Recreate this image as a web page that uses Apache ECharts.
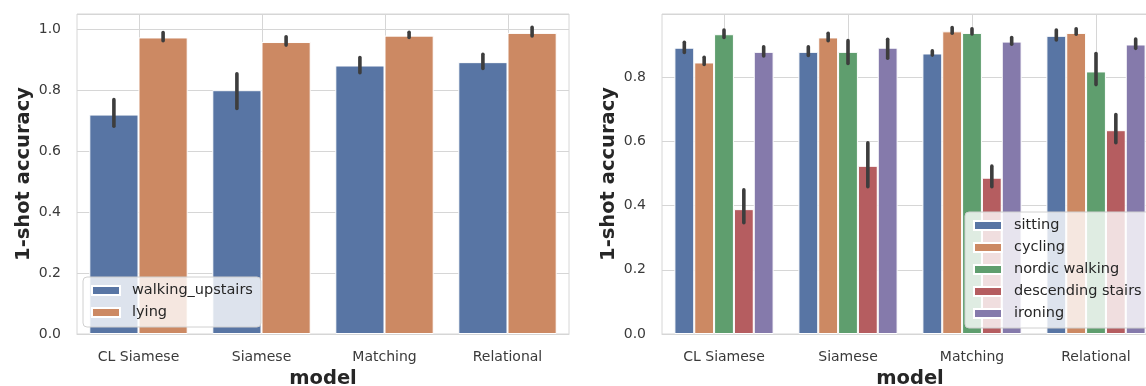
<!DOCTYPE html>
<html><head><meta charset="utf-8">
<script src="https://cdn.jsdelivr.net/npm/echarts@6/dist/echarts.min.js"></script>
<style>html,body{margin:0;padding:0;background:#fff}#c{width:1146px;height:386px}</style>
</head><body><div id="c"></div>
<script>
const models = ['CL Siamese', 'Siamese', 'Matching', 'Relational'];
const yTicks = [0, 0.2, 0.4, 0.6, 0.8, 1.0];

// left panel
const leftActivities = ['walking_upstairs', 'lying'];
const walkingUpstairsMean = [0.720, 0.800, 0.881, 0.892];
const walkingUpstairsCI = [[0.682, 0.769], [0.740, 0.854], [0.857, 0.907], [0.871, 0.918]];
const lyingMean = [0.973, 0.958, 0.979, 0.988];
const lyingCI = [[0.962, 0.989], [0.948, 0.975], [0.973, 0.990], [0.978, 1.006]];

// right panel
const rightActivities = ['sitting', 'cycling', 'nordic walking', 'descending stairs', 'ironing'];
const sittingMean = [0.892, 0.879, 0.874, 0.929];
const sittingCI = [[0.877, 0.909], [0.868, 0.895], [0.869, 0.882], [0.916, 0.947]];
const cyclingMean = [0.846, 0.924, 0.943, 0.938];
const cyclingCI = [[0.840, 0.862], [0.914, 0.937], [0.937, 0.955], [0.934, 0.951]];
const nordicMean = [0.934, 0.879, 0.938, 0.818];
const nordicCI = [[0.924, 0.947], [0.843, 0.914], [0.935, 0.951], [0.777, 0.874]];
const descendingMean = [0.389, 0.524, 0.487, 0.635];
const descendingCI = [[0.347, 0.449], [0.459, 0.596], [0.459, 0.523], [0.596, 0.684]];
const ironingMean = [0.879, 0.892, 0.911, 0.902];
const ironingCI = [[0.866, 0.895], [0.859, 0.918], [0.903, 0.924], [0.890, 0.919]];

const palette = ['#5875A4', '#CC8963', '#5F9E6E', '#B55D60', '#857AAB'];
const FONT = 'DejaVu Sans';
const GRIDC = '#d6d6d6';

function barSeries(name, data, color, gi) {
  return {
    type: 'bar', name: name, data: data, xAxisIndex: gi, yAxisIndex: gi,
    itemStyle: { color: color, borderColor: '#ffffff', borderWidth: 1 },
    barGap: '0%', barCategoryGap: '20%', z: 2, silent: true
  };
}
function errSeries(ci, sIdx, n, gi) {
  return {
    type: 'custom', xAxisIndex: gi, yAxisIndex: gi, z: 3, silent: true,
    data: ci.map((c, i) => [i, c[0], c[1]]),
    encode: { x: 0, y: [1, 2] },
    renderItem: function (params, api) {
      const band = api.size([1, 0])[0];
      const w = band * 0.8 / n;
      const x = api.coord([api.value(0), 0])[0] + (sIdx - (n - 1) / 2) * w;
      const p1 = api.coord([api.value(0), api.value(1)]);
      const p2 = api.coord([api.value(0), api.value(2)]);
      return { type: 'line', shape: { x1: x, y1: p1[1], x2: x, y2: p2[1] },
        style: { stroke: '#3d3d3d', lineWidth: 3.6, lineCap: 'round' } };
    }
  };
}
function vGridSeries(gi) {
  return {
    type: 'custom', xAxisIndex: gi, yAxisIndex: gi, z: 1, silent: true,
    data: models.map((m, i) => [i, 0]),
    encode: { x: 0, y: 1 },
    renderItem: function (params, api) {
      const x = Math.round(api.coord([api.value(0), 0])[0]) + 0.5;
      const cs = params.coordSys;
      return { type: 'line', shape: { x1: x, y1: cs.y, x2: x, y2: cs.y + cs.height },
        style: { stroke: GRIDC, lineWidth: 1 } };
    }
  };
}
function xAxis(gi) {
  return {
    type: 'category', gridIndex: gi, data: models,
    name: 'model', nameLocation: 'middle', nameGap: 34,
    nameTextStyle: { fontSize: 19.5, fontWeight: 'bold', color: '#262626', fontFamily: FONT },
    axisLabel: { fontSize: 14, color: '#3a3a3a', margin: 16, fontFamily: FONT },
    axisLine: { show: true, lineStyle: { color: GRIDC } },
    axisTick: { show: false }, splitLine: { show: false }
  };
}
function yAxis(gi, max) {
  return {
    type: 'value', gridIndex: gi, min: 0, max: max, interval: 0.2,
    name: '1-shot accuracy', nameLocation: 'middle', nameGap: 43,
    nameTextStyle: { fontSize: 19.5, fontWeight: 'bold', color: '#262626', fontFamily: FONT },
    axisLabel: { fontSize: 14, color: '#3a3a3a', margin: 16, fontFamily: FONT,
      formatter: v => yTicks.some(t => Math.abs(t - v) < 1e-6) ? v.toFixed(1) : '' },
    axisLine: { show: false }, axisTick: { show: false },
    splitLine: { show: true, lineStyle: { color: GRIDC, width: 1 } }
  };
}
function legend(names, left, top) {
  return {
    orient: 'vertical', left: left, top: top, data: names, icon: 'rect',
    itemWidth: 28, itemHeight: 9, itemGap: 7, padding: [6, 8, 7, 8],
    backgroundColor: 'rgba(255,255,255,0.8)', borderColor: '#d0d0d0', borderWidth: 1, borderRadius: 4,
    textStyle: { fontSize: 14.5, color: '#262626', fontFamily: FONT, padding: [0, 0, 0, 7] },
    selectedMode: false
  };
}

const chart = echarts.init(document.getElementById('c'), null, { renderer: 'canvas' });
chart.setOption({
  animation: false,
  textStyle: { fontFamily: FONT },
  grid: [
    { left: 77, top: 14, width: 492, height: 320, outerBoundsMode: 'none', containLabel: false, show: true, borderColor: GRIDC, borderWidth: 1, backgroundColor: 'transparent' },
    { left: 662, top: 14, width: 496, height: 320, outerBoundsMode: 'none', containLabel: false, show: true, borderColor: GRIDC, borderWidth: 1, backgroundColor: 'transparent' }
  ],
  xAxis: [xAxis(0), xAxis(1)],
  yAxis: [yAxis(0, 1.05), yAxis(1, 0.997)],
  legend: [legend(leftActivities, 83, 277), legend(rightActivities, 965, 212)],
  series: [
    vGridSeries(0), vGridSeries(1),
    barSeries(leftActivities[0], walkingUpstairsMean, palette[0], 0),
    barSeries(leftActivities[1], lyingMean, palette[1], 0),
    errSeries(walkingUpstairsCI, 0, 2, 0),
    errSeries(lyingCI, 1, 2, 0),
    barSeries(rightActivities[0], sittingMean, palette[0], 1),
    barSeries(rightActivities[1], cyclingMean, palette[1], 1),
    barSeries(rightActivities[2], nordicMean, palette[2], 1),
    barSeries(rightActivities[3], descendingMean, palette[3], 1),
    barSeries(rightActivities[4], ironingMean, palette[4], 1),
    errSeries(sittingCI, 0, 5, 1),
    errSeries(cyclingCI, 1, 5, 1),
    errSeries(nordicCI, 2, 5, 1),
    errSeries(descendingCI, 3, 5, 1),
    errSeries(ironingCI, 4, 5, 1)
  ]
});
</script></body></html>
